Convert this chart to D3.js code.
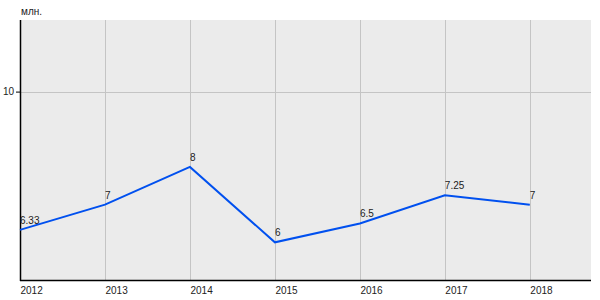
<!DOCTYPE html>
<html><head><meta charset="utf-8">
<script src="https://cdn.jsdelivr.net/npm/d3@7"></script>
<style>body{margin:0;background:#fff;}svg{display:block;font-family:"Liberation Sans",Arial,sans-serif;}</style>
</head><body>
<svg id="c" width="600" height="300"></svg>
<script>
const years = [2012, 2013, 2014, 2015, 2016, 2017, 2018];
const values = [6.33, 7, 8, 6, 6.5, 7.25, 7];
const valueLabels = ["6.33", "7", "8", "6", "6.5", "7.25", "7"];
const yTicks = [10];
const unitLabel = "млн.";

const svg = d3.select("#c");
const L = 20, T = 20, R = 591, B = 280;
const x = d3.scaleLinear().domain([2012, 2018.72]).range([L, R]);
const y = d3.scaleLinear().domain([5, 11.9]).range([B, T]);

svg.append("rect").attr("x", L).attr("y", T).attr("width", R - L).attr("height", B - T).attr("fill", "#ebebeb");

// grid
svg.append("g").selectAll("line").data(years).join("line")
  .attr("x1", d => Math.round(x(d)) + 0.5).attr("x2", d => Math.round(x(d)) + 0.5)
  .attr("y1", T).attr("y2", B).attr("stroke", "#c4c4c4").attr("stroke-width", 1);
svg.append("g").selectAll("line").data(yTicks).join("line")
  .attr("x1", L).attr("x2", R)
  .attr("y1", d => Math.round(y(d)) + 0.5).attr("y2", d => Math.round(y(d)) + 0.5)
  .attr("stroke", "#c4c4c4").attr("stroke-width", 1);

// axes
const xAxis = svg.append("g").attr("transform", `translate(0,${B})`)
  .call(d3.axisBottom(x).tickValues(years).tickFormat(d3.format("d")).tickSize(0).tickPadding(7));
xAxis.select(".domain").remove();
xAxis.selectAll("text").attr("text-anchor", "start").attr("font-size", 10).attr("fill", "#222").attr("font-family", "Liberation Sans, Arial, sans-serif");

const yAxis = svg.append("g").attr("transform", `translate(${L},0)`)
  .call(d3.axisLeft(y).tickValues(yTicks).tickFormat(d3.format("d")).tickSize(4).tickPadding(2));
yAxis.select(".domain").remove();
yAxis.selectAll("text").attr("font-size", 10).attr("fill", "#222").attr("font-family", "Liberation Sans, Arial, sans-serif");
yAxis.selectAll("line").attr("stroke", "#000");

svg.append("line").attr("x1", L + 0.5).attr("x2", L + 0.5).attr("y1", T).attr("y2", B + 1).attr("stroke", "#000").attr("stroke-width", 1.5);
svg.append("line").attr("x1", L).attr("x2", R).attr("y1", B + 0.5).attr("y2", B + 0.5).attr("stroke", "#000").attr("stroke-width", 1.5);

svg.append("text").attr("x", L + 1).attr("y", 15).attr("font-size", 10).attr("fill", "#222").text(unitLabel);

// line
const data = years.map((d, i) => ({year: d, v: values[i], label: valueLabels[i]}));
svg.append("path").datum(data)
  .attr("fill", "none").attr("stroke", "#0050ef").attr("stroke-width", 2)
  .attr("d", d3.line().x(d => x(d.year)).y(d => y(d.v)));

svg.append("g").selectAll("text").data(data).join("text")
  .attr("x", d => x(d.year)).attr("y", d => y(d.v) - 6)
  .attr("font-size", 10).attr("fill", "#222")
  .text(d => d.label);
</script>
</body></html>
